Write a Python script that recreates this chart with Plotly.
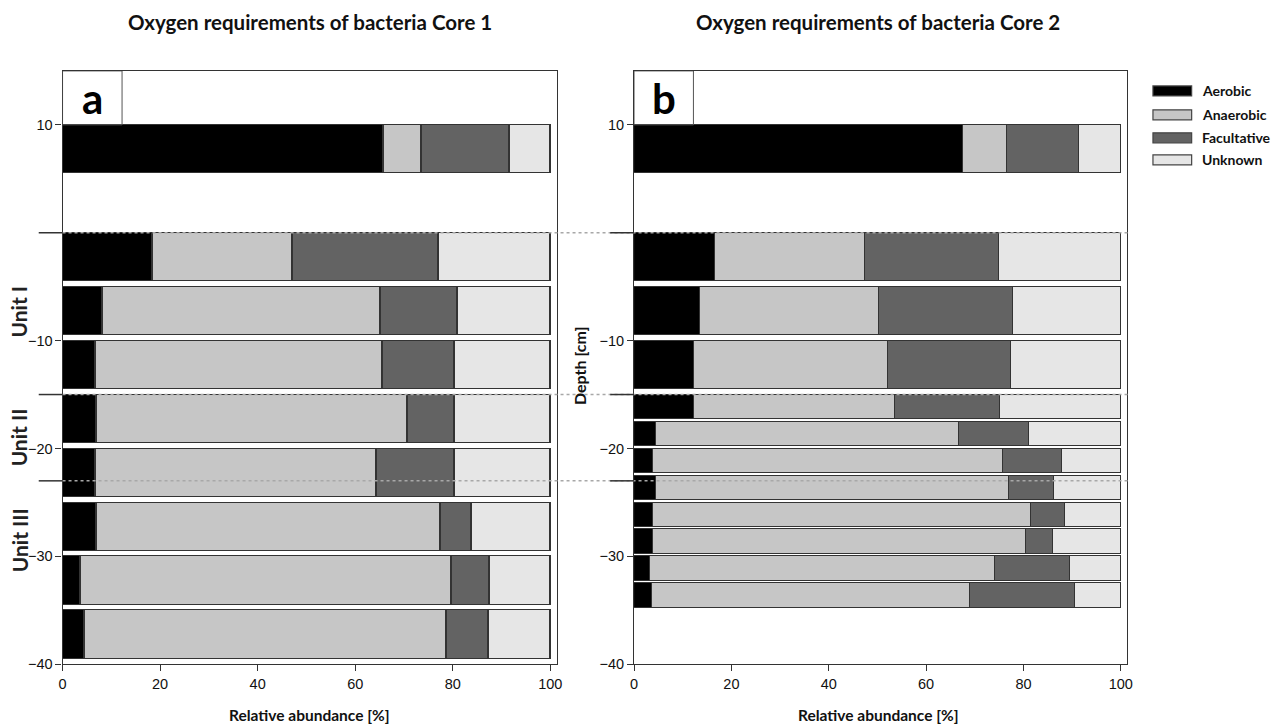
import plotly.graph_objects as go

# Sample depths (top of each sampled interval, cm) and thickness of the interval drawn
depth_a = [10, 0, -5, -10, -15, -20, -25, -30, -35]
thick_a = [4.5] * 9
depth_b = [10, 0, -5, -10, -15, -17.5, -20, -22.5, -25, -27.5, -30, -32.5]
thick_b = [4.5, 4.5, 4.5, 4.5] + [2.25] * 8

# Relative abundance [%] per oxygen-requirement group, Core 1
aerobic_a = [65.8, 18.5, 8.2, 6.8, 7.0, 6.8, 7.0, 3.7, 4.5]
anaerobic_a = [7.8, 28.7, 57.0, 58.8, 63.7, 57.6, 70.5, 76.0, 74.2]
facultative_a = [18.0, 29.8, 15.8, 14.7, 9.6, 16.0, 6.3, 7.9, 8.7]
unknown_a = [8.4, 23.0, 19.0, 19.7, 19.7, 19.6, 16.2, 12.4, 12.6]

# Relative abundance [%] per oxygen-requirement group, Core 2
aerobic_b = [67.5, 16.6, 13.5, 12.4, 12.3, 4.6, 3.9, 4.6, 4.0, 3.9, 3.3, 3.7]
anaerobic_b = [9.1, 30.8, 36.8, 39.7, 41.3, 62.2, 71.9, 72.4, 77.6, 76.7, 70.9, 65.3]
facultative_b = [14.9, 27.6, 27.5, 25.4, 21.5, 14.3, 12.1, 9.2, 6.9, 5.4, 15.3, 21.6]
unknown_b = [8.5, 25.0, 22.2, 22.5, 24.9, 18.9, 12.1, 13.8, 11.5, 14.0, 10.5, 9.4]

groups = ["Aerobic", "Anaerobic", "Facultative", "Unknown"]
colors = ["#000000", "#c6c6c6", "#636363", "#e6e6e6"]

# Lithological unit boundaries (cm) and unit labels
unit_bounds = [0, -15, -23]
unit_names = ["Unit I", "Unit II", "Unit III"]
unit_label_px = [312, 438, 541]

xticks = [0, 20, 40, 60, 80, 100]
yticks = [10, -10, -20, -30, -40]

W, H = 1281, 724
def px(x):
    return x / W
def py(y):
    return 1 - (y * 1.01) / H

fig = go.Figure()

panels = [
    ("x", "y", depth_a, thick_a, [aerobic_a, anaerobic_a, facultative_a, unknown_a]),
    ("x2", "y2", depth_b, thick_b, [aerobic_b, anaerobic_b, facultative_b, unknown_b]),
]
for xa, ya, dep, th, series in panels:
    centers = [d - t / 2 for d, t in zip(dep, th)]
    for name, col, vals in zip(groups, colors, series):
        fig.add_trace(go.Bar(
            x=vals, y=centers, width=th, orientation="h", name=name,
            marker=dict(color=col, line=dict(color="#333333", width=1.2)),
            xaxis=xa, yaxis=ya, showlegend=False,
        ))

axis_font = dict(family="Liberation Sans, Arial", size=14.5, color="#111111")
common_x = dict(range=[0, 101.3], tickvals=xticks, ticks="outside", ticklen=6,
                tickcolor="#333333", showline=True, linecolor="#333333", linewidth=1.2,
                mirror=True, showgrid=False, zeroline=False, tickfont=axis_font)
common_y = dict(range=[-40, 15], tickvals=yticks, ticks="outside", ticklen=6,
                tickcolor="#333333", showline=True, linecolor="#333333", linewidth=1.2,
                mirror=True, showgrid=False, zeroline=False, tickfont=axis_font)

dom_y = [py(665), py(71)]
fig.update_layout(
    width=W, height=H, margin=dict(l=0, r=0, t=0, b=0),
    paper_bgcolor="white", plot_bgcolor="white", barmode="stack", bargap=0,
    xaxis=dict(domain=[px(59), px(557)], anchor="y", **common_x),
    yaxis=dict(domain=dom_y, anchor="x", **common_y),
    xaxis2=dict(domain=[px(635), px(1132)], anchor="y2", **common_x),
    yaxis2=dict(domain=dom_y, anchor="x2", **common_y),
    showlegend=False,
)

shapes = []
annotations = []
label_font = "Lato, Open Sans, sans-serif"

# Panel letter boxes
for xa, ya, letter in [("x", "y", "a"), ("x2", "y2", "b")]:
    shapes.append(dict(type="rect", xref=xa, yref=ya, x0=0, x1=12.2, y0=10, y1=15,
                       line=dict(color="#555555", width=1), layer="above"))
    annotations.append(dict(x=6.1, y=12.5, xref=xa, yref=ya, text="<b>%s</b>" % letter,
                            showarrow=False, font=dict(family=label_font, size=42, color="black"),
                            xanchor="center", yanchor="middle"))

# Unit boundaries: dotted guide across both cores, solid marks left of each axis
for b in unit_bounds:
    shapes.append(dict(type="line", xref="paper", yref="y", x0=px(59), x1=px(1134), y0=b, y1=b,
                       line=dict(color="#a8a8a8", width=1.5, dash="dot"), layer="above"))
    shapes.append(dict(type="line", xref="paper", yref="y", x0=px(35), x1=px(59), y0=b, y1=b,
                       line=dict(color="#333333", width=1.5), layer="above"))
    shapes.append(dict(type="line", xref="paper", yref="y2", x0=px(611), x1=px(635), y0=b, y1=b,
                       line=dict(color="#333333", width=1.5), layer="above"))

for name, yy in zip(unit_names, unit_label_px):
    annotations.append(dict(x=px(15), y=py(yy), xref="paper", yref="paper", text="<b>%s</b>" % name,
                            textangle=-90, showarrow=False,
                            font=dict(family=label_font, size=21, color="#222222"),
                            xanchor="center", yanchor="middle"))

# Titles
for cx, core in [(308, "Core 1"), (881, "Core 2")]:
    annotations.append(dict(x=px(cx), y=py(22), xref="paper", yref="paper",
                            text="<b>Oxygen requirements of bacteria %s</b>" % core,
                            showarrow=False, font=dict(family=label_font, size=20.5, color="#111111"),
                            xanchor="center", yanchor="middle"))
    annotations.append(dict(x=px(cx), y=py(716), xref="paper", yref="paper",
                            text="<b>Relative abundance [%]</b>",
                            showarrow=False, font=dict(family=label_font, size=15.5, color="#111111"),
                            xanchor="center", yanchor="middle"))

annotations.append(dict(x=px(580), y=py(366), xref="paper", yref="paper", text="<b>Depth [cm]</b>",
                        textangle=-90, showarrow=False,
                        font=dict(family=label_font, size=16, color="#111111"),
                        xanchor="center", yanchor="middle"))

# Legend
leg_y = [91, 115, 138, 160]
for name, col, yy in zip(groups, colors, leg_y):
    shapes.append(dict(type="rect", xref="paper", yref="paper",
                       x0=px(1158), x1=px(1197), y0=py(yy + 5), y1=py(yy - 5),
                       fillcolor=col, line=dict(color="#444444", width=1.2)))
    annotations.append(dict(x=px(1205), y=py(yy), xref="paper", yref="paper",
                            text="<b>%s</b>" % name, showarrow=False,
                            font=dict(family=label_font, size=14, color="#111111"),
                            xanchor="left", yanchor="middle"))

fig.update_layout(shapes=shapes, annotations=annotations)
fig.write_html("out.html")
